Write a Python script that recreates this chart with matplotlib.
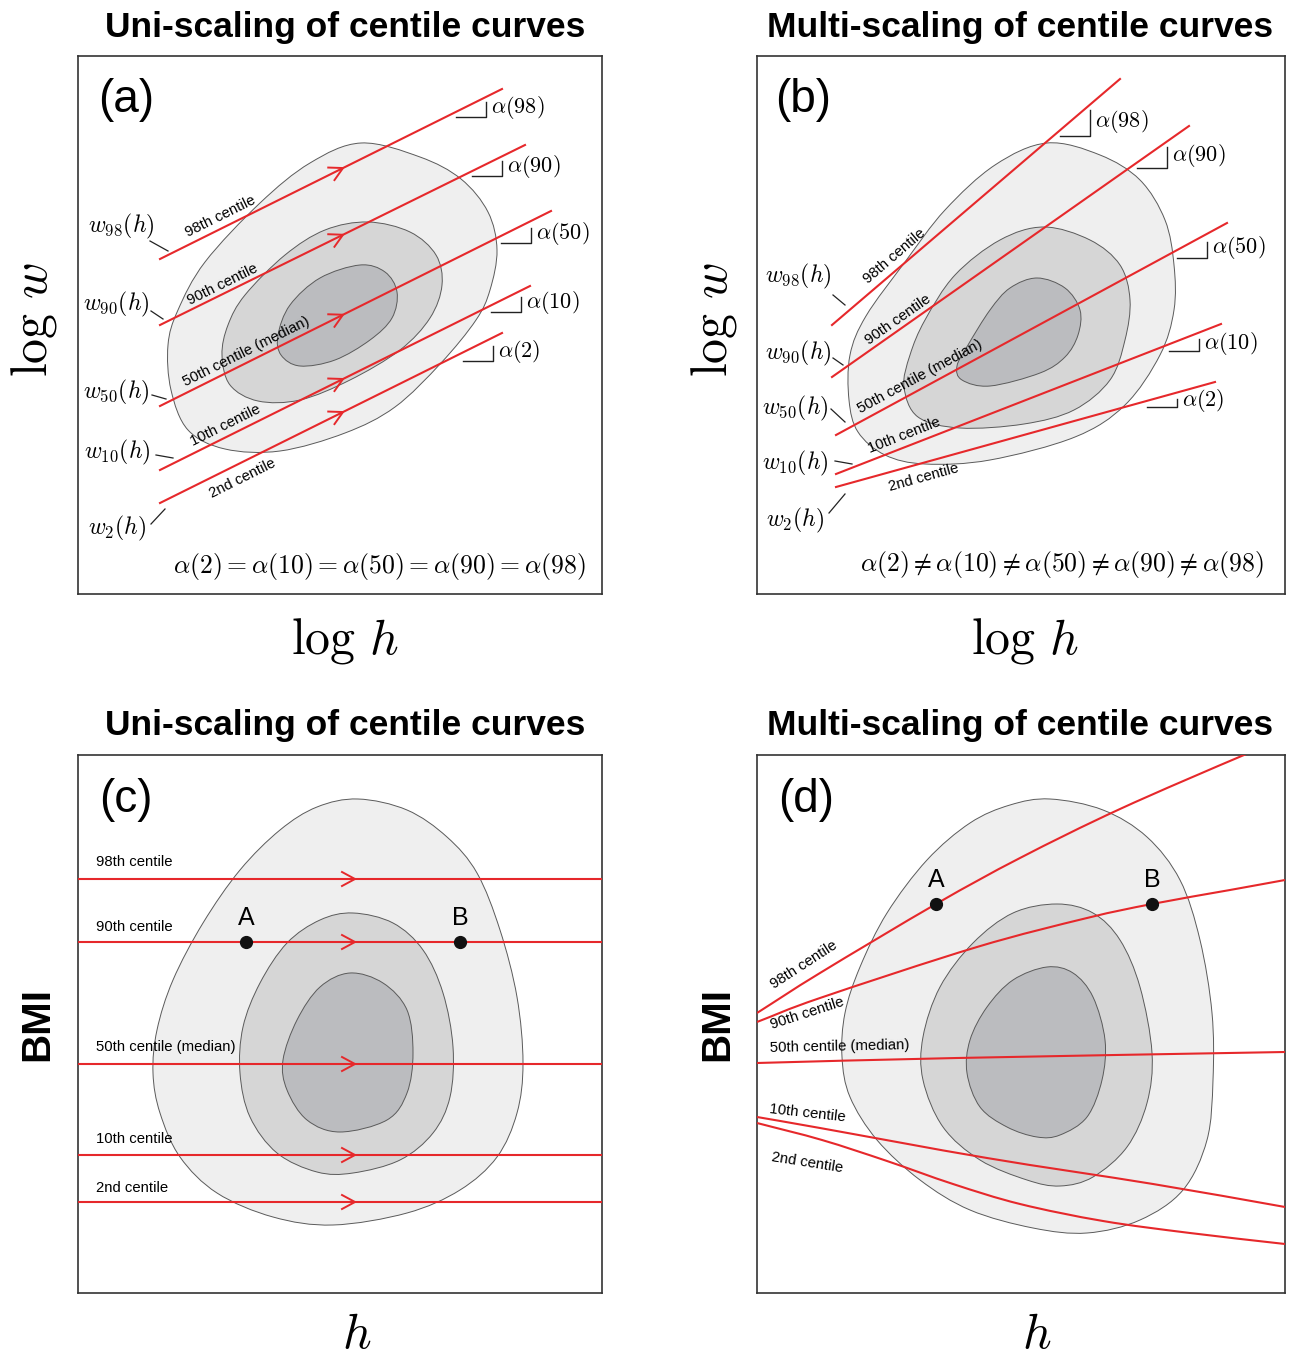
import numpy as np
import matplotlib.pyplot as plt
from matplotlib.path import Path
from matplotlib.patches import PathPatch

plt.rcParams['font.family'] = ['Liberation Sans', 'DejaVu Sans']
plt.rcParams['mathtext.fontset'] = 'cm'

W, H = 1292, 1356
RED = '#e6282b'
EDGE = '#5a5a5a'
FILLS = ['#efefef', '#d6d6d6', '#bbbcbf']

centiles = [98, 90, 50, 10, 2]
centile_names = ['98th centile', '90th centile', '50th centile (median)',
                 '10th centile', '2nd centile']

# (a) log w vs log h, uni-scaling: parallel straight lines
a_x0 = [82, 82, 82, 82, 82]
a_y0 = [335, 269, 188, 124, 91]
a_x1 = [424, 447, 473, 452, 424]
a_y1 = [505, 449, 383, 308, 261]

# (b) log w vs log h, multi-scaling: straight lines of differing slope
b_x0 = [75, 75, 79, 79, 79]
b_y0 = [269, 217, 159, 120, 107]
b_x1 = [363, 432, 470, 464, 458]
b_y1 = [515, 468, 371, 270, 212]

# (c) BMI vs h, uni-scaling: flat centiles
c_level = [414, 351, 229, 138, 91]
c_point_A = (168, 351)
c_point_B = (382, 351)

# (d) BMI vs h, multi-scaling: curved centiles
d98_x = [0, 63, 179, 263, 363, 487, 540]
d98_y = [280, 320, 389, 435, 484, 538, 559]
d90_x = [0, 63, 220, 330, 395, 473, 528]
d90_y = [271, 295, 346, 375, 389, 403, 413]
d50_x = [0, 200, 528]
d50_y = [230, 235, 241]
d10_x = [0, 63, 230, 396, 528]
d10_y = [176, 165, 135, 109, 86]
d2_x = [0, 65, 130, 196, 263, 346, 433, 528]
d2_y = [170, 153, 132, 109, 89, 72, 60, 49]
d_point_A = (d98_x[2], d98_y[2])
d_point_B = (d90_x[4], d90_y[4])

# density contours (outer, middle, inner) for each panel
a_outer = [(283, 451), (342, 437), (383, 415), (410, 382), (419, 344), (412, 304),
           (398, 274), (363, 231), (317, 187), (267, 161), (202, 143), (147, 145),
           (110, 164), (93, 204), (90, 249), (100, 284), (127, 332), (182, 391),
           (232, 431)]
a_middle = [(290, 372), (332, 362), (358, 339), (364, 309), (352, 276), (322, 244),
            (272, 214), (222, 194), (180, 193), (152, 209), (144, 239), (150, 269),
            (167, 299), (207, 339), (247, 364)]
a_inner = [(282, 329), (307, 322), (319, 302), (314, 276), (292, 254), (257, 234),
           (222, 228), (203, 239), (200, 259), (212, 289), (242, 316)]

b_outer = [(290, 451), (343, 439), (383, 414), (408, 374), (417, 329), (417, 284),
           (403, 239), (368, 189), (318, 157), (233, 134), (168, 130), (128, 139),
           (101, 162), (92, 194), (93, 239), (109, 278), (148, 332), (188, 384),
           (238, 429)]
b_middle = [(287, 367), (333, 354), (363, 329), (373, 294), (368, 254), (353, 214),
            (317, 184), (267, 170), (203, 166), (161, 177), (147, 207), (153, 239),
            (168, 274), (198, 319), (243, 354)]
b_inner = [(280, 316), (308, 306), (323, 284), (321, 259), (308, 237), (283, 221),
           (233, 208), (205, 214), (200, 228), (211, 249), (233, 284), (253, 306)]

c_outer = [(280, 494), (329, 483), (369, 456), (399, 420), (422, 363), (439, 296),
           (445, 230), (439, 180), (419, 136), (382, 103), (329, 80), (255, 68),
           (195, 76), (139, 100), (102, 136), (82, 180), (75, 220), (79, 263),
           (95, 313), (125, 370), (162, 423), (202, 463), (239, 486)]
c_middle = [(275, 380), (315, 370), (345, 343), (365, 300), (375, 246), (372, 196),
            (355, 160), (322, 133), (275, 120), (239, 121), (199, 140), (172, 176),
            (162, 220), (165, 266), (182, 310), (209, 350), (242, 373)]
c_inner = [(272, 320), (305, 310), (329, 283), (335, 240), (329, 200), (309, 173),
           (262, 161), (229, 173), (209, 203), (205, 233), (219, 273), (242, 306)]

d_outer = [(293, 494), (346, 483), (390, 456), (423, 413), (443, 353), (455, 280),
           (456, 213), (450, 153), (426, 103), (383, 73), (330, 60), (276, 65),
           (213, 83), (163, 113), (120, 153), (93, 196), (85, 236), (88, 280),
           (103, 326), (130, 380), (170, 433), (213, 470), (253, 488)]
d_middle = [(300, 389), (336, 380), (363, 353), (383, 306), (395, 240), (390, 190),
            (370, 146), (336, 116), (303, 107), (270, 113), (223, 133), (186, 166),
            (166, 213), (166, 256), (183, 306), (216, 350), (256, 380)]
d_inner = [(290, 326), (316, 320), (336, 296), (348, 253), (345, 213), (330, 176),
           (303, 158), (280, 156), (250, 166), (223, 186), (210, 220), (213, 253),
           (230, 286), (256, 313)]


def smooth_path(pts, closed=True):
    """Catmull-Rom through the points, written as cubic Bezier segments."""
    pts = np.asarray(pts, dtype=float)
    if closed:
        P = np.vstack([pts[-1], pts, pts[0], pts[1]])
    else:
        P = np.vstack([2 * pts[0] - pts[1], pts, 2 * pts[-1] - pts[-2]])
    verts = [P[1]]
    codes = [Path.MOVETO]
    for i in range(1, len(P) - 2):
        p0, p1, p2, p3 = P[i - 1], P[i], P[i + 1], P[i + 2]
        verts += [p1 + (p2 - p0) / 6, p2 - (p3 - p1) / 6, p2]
        codes += [Path.CURVE4] * 3
    if closed:
        verts.append(P[1])
        codes.append(Path.CLOSEPOLY)
    return Path(verts, codes)


def make_axes(fig, left, top, w, h):
    ax = fig.add_axes([left / W, 1 - (top + h) / H, w / W, h / H])
    ax.set_xlim(0, w)
    ax.set_ylim(0, h)
    ax.set_xticks([])
    ax.set_yticks([])
    for sp in ax.spines.values():
        sp.set_linewidth(1.2)
        sp.set_color('#333333')
    return ax


def draw_blobs(ax, contours):
    for pts, fc in zip(contours, FILLS):
        ax.add_patch(PathPatch(smooth_path(pts), facecolor=fc, edgecolor=EDGE,
                               lw=0.7, zorder=1))


def chevron(ax, x, y, dx, dy, size=13, spread=7):
    d = np.array([dx, dy], dtype=float)
    d /= np.hypot(*d)
    nrm = np.array([-d[1], d[0]])
    tip = np.array([x, y])
    back = tip - size * d
    arm = np.array([back + spread * nrm, tip, back - spread * nrm])
    ax.plot(arm[:, 0], arm[:, 1], color=RED, lw=1.4, zorder=3,
            solid_joinstyle='miter')


def slope_mark(ax, x, y, slope, label, run=30):
    rise = slope * run
    ax.plot([x - run, x, x], [y, y, y + rise], color='#222222', lw=1.0, zorder=4)
    ax.text(x + 5, y + rise / 2 + 2, label, fontsize=16, va='center', ha='left',
            zorder=4)


def left_labels(ax, spots):
    for c, (tx, ty, lx0, ly0, lx1, ly1) in zip(centiles, spots):
        ax.text(tx, ty, r'$w_{%d}(h)$' % c, fontsize=17, ha='right', va='center')
        ax.plot([lx0, lx1], [ly0, ly1], color='#222222', lw=0.9)


fig = plt.figure(figsize=(W / 100, H / 100), dpi=100)

# ---------------- panel (a)
ax = make_axes(fig, 78, 56, 524, 538)
draw_blobs(ax, [a_outer, a_middle, a_inner])
a_slopes = []
for x0, y0, x1, y1 in zip(a_x0, a_y0, a_x1, a_y1):
    ax.plot([x0, x1], [y0, y1], color=RED, lw=1.5, zorder=3)
    s = (y1 - y0) / (x1 - x0)
    a_slopes.append(s)
    xa = 265
    chevron(ax, xa, y0 + s * (xa - x0), x1 - x0, y1 - y0)
a_text_pos = [(142, 378), (145, 310), (168, 242), (147, 169), (165, 116)]
for name, (tx, ty), s in zip(centile_names, a_text_pos, a_slopes):
    ax.text(tx, ty, name, fontsize=10.7, rotation=np.degrees(np.arctan(s)),
            rotation_mode='anchor', ha='center', va='center', zorder=4)
a_corners = [(408, 477), (424, 418), (453, 351), (443, 282), (415, 233)]
for c, (cx, cy), s in zip(centiles, a_corners, a_slopes):
    slope_mark(ax, cx, cy, s, r'$\alpha(%d)$' % c)
left_labels(ax, [(77, 368, 72, 353, 90, 343), (72, 290, 73, 283, 85, 275),
                 (72, 202, 74, 199, 88, 195), (73, 142, 78, 139, 95, 136),
                 (68, 66, 73, 70, 87, 85)])
ax.text(301, 27, r'$\alpha(2)=\alpha(10)=\alpha(50)=\alpha(90)=\alpha(98)$',
        fontsize=18.5, ha='center', va='center')
ax.text(48, 494, '(a)', fontsize=33, ha='center', va='center')

# ---------------- panel (b)
ax = make_axes(fig, 757, 56, 528, 538)
draw_blobs(ax, [b_outer, b_middle, b_inner])
b_slopes = []
for x0, y0, x1, y1 in zip(b_x0, b_y0, b_x1, b_y1):
    ax.plot([x0, x1], [y0, y1], color=RED, lw=1.5, zorder=3)
    b_slopes.append((y1 - y0) / (x1 - x0))
b_text_pos = [(137, 338), (141, 274), (163, 217), (147, 159), (167, 116)]
for name, (tx, ty), s in zip(centile_names, b_text_pos, b_slopes):
    ax.text(tx, ty, name, fontsize=10.7, rotation=np.degrees(np.arctan(s)),
            rotation_mode='anchor', ha='center', va='center', zorder=4)
b_corners = [(333, 458), (410, 426), (450, 336), (442, 243), (420, 187)]
for c, (cx, cy), s in zip(centiles, b_corners, b_slopes):
    slope_mark(ax, cx, cy, s, r'$\alpha(%d)$' % c)
left_labels(ax, [(75, 318, 76, 299, 88, 289), (75, 241, 76, 236, 86, 229),
                 (72, 186, 74, 185, 88, 172), (72, 131, 78, 133, 95, 130),
                 (67, 74, 72, 81, 88, 100)])
ax.text(305, 29, r'$\alpha(2)\neq\alpha(10)\neq\alpha(50)\neq\alpha(90)\neq\alpha(98)$',
        fontsize=18.5, ha='center', va='center')
ax.text(46, 494, '(b)', fontsize=33, ha='center', va='center')

# ---------------- panel (c)
ax = make_axes(fig, 78, 755, 524, 538)
draw_blobs(ax, [c_outer, c_middle, c_inner])
c_text_y = [431, 366, 246, 154, 105]
for lvl, name, ty in zip(c_level, centile_names, c_text_y):
    ax.plot([0, 524], [lvl, lvl], color=RED, lw=1.5, zorder=3)
    chevron(ax, 277, lvl, 1, 0)
    ax.text(18, ty, name, fontsize=10.7, ha='left', va='center', zorder=4)
for (px, py), lab in [(c_point_A, 'A'), (c_point_B, 'B')]:
    ax.plot(px, py, 'o', color='#111111', ms=8.5, zorder=5)
    ax.text(px, py + 24, lab, fontsize=18, ha='center', va='center', zorder=5)
ax.text(48, 493, '(c)', fontsize=33, ha='center', va='center')

# ---------------- panel (d)
ax = make_axes(fig, 757, 755, 528, 538)
draw_blobs(ax, [d_outer, d_middle, d_inner])
for xs, ys in [(d98_x, d98_y), (d90_x, d90_y), (d50_x, d50_y), (d10_x, d10_y), (d2_x, d2_y)]:
    ax.add_patch(PathPatch(smooth_path(list(zip(xs, ys)), closed=False),
                           facecolor='none', edgecolor=RED, lw=1.5, zorder=3))
d_text = [(47, 328, 33), (50, 280, 18), (83, 246, 1.2), (50, 180, -6.3), (50, 130, -9)]
for name, (tx, ty, rot) in zip(centile_names, d_text):
    ax.text(tx, ty, name, fontsize=10.7, rotation=rot, rotation_mode='anchor',
            ha='center', va='center', zorder=4)
for (px, py), lab in [(d_point_A, 'A'), (d_point_B, 'B')]:
    ax.plot(px, py, 'o', color='#111111', ms=8.5, zorder=5)
    ax.text(px, py + 24, lab, fontsize=18, ha='center', va='center', zorder=5)
ax.text(49, 493, '(d)', fontsize=33, ha='center', va='center')

# ---------------- titles and axis labels
for cx, top in [(345, 37), (1020, 37), (345, 735), (1020, 735)]:
    title = 'Uni-scaling of centile curves' if cx < 600 else 'Multi-scaling of centile curves'
    fig.text(cx / W, 1 - top / H, title, fontsize=25.5, fontweight='bold',
             ha='center', va='baseline')
for cx in [345, 1025]:
    fig.text(cx / W, 1 - 653 / H, r'$\log\,h$', fontsize=36, ha='center', va='baseline')
for bx in [47, 727]:
    fig.text(bx / W, 1 - 320 / H, r'$\log\,w$', fontsize=36, rotation=90,
             rotation_mode='anchor', ha='center', va='baseline')
for bx in [48, 728]:
    fig.text(bx / W, 1 - 1024 / H, 'BMI', fontsize=29, fontweight='bold', rotation=90,
             rotation_mode='anchor', ha='center', va='baseline')
for cx in [357, 1037]:
    fig.text(cx / W, 1 - 1348 / H, r'$h$', fontsize=36, ha='center', va='baseline')

fig.savefig('out.png', dpi=100)
